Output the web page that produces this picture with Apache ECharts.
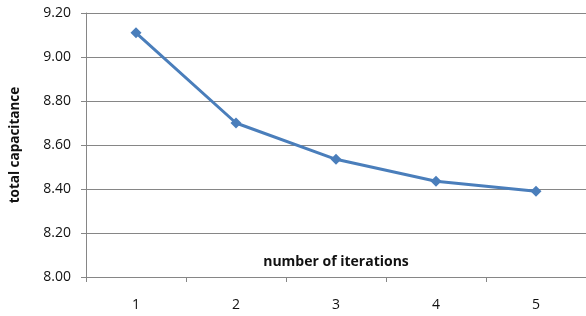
<!DOCTYPE html>
<html>
<head>
<meta charset="utf-8">
<script src="https://cdn.jsdelivr.net/npm/echarts@6/dist/echarts.min.js"></script>
<style>
html,body{margin:0;padding:0;background:#fff;}
#chart{width:586px;height:316px;}
</style>
</head>
<body>
<div id="chart"></div>
<script>
var iterations = ['1', '2', '3', '4', '5'];
var capacitance = [9.11, 8.70, 8.535, 8.435, 8.39];

var chart = echarts.init(document.getElementById('chart'));
chart.setOption({
    animation: false,
    textStyle: {fontFamily: 'Open Sans'},
    grid: {left: 82, right: -2, top: 13, bottom: 39},
    xAxis: {
        type: 'category',
        data: iterations,
        boundaryGap: true,
        name: 'number of iterations',
        nameLocation: 'middle',
        nameGap: -22,
        nameTextStyle: {fontWeight: 'bold', fontSize: 14, color: '#111'},
        axisLine: {lineStyle: {color: '#868686'}},
        axisTick: {show: true, alignWithLabel: false, length: 5, lineStyle: {color: '#868686'}},
        axisLabel: {color: '#111', fontSize: 14, margin: 21}
    },
    yAxis: {
        type: 'value',
        min: 8.0,
        max: 9.2,
        interval: 0.2,
        name: 'total capacitance',
        nameLocation: 'middle',
        nameGap: 64,
        nameTextStyle: {fontWeight: 'bold', fontSize: 13.5, color: '#111'},
        axisLine: {show: true, lineStyle: {color: '#868686'}},
        axisTick: {show: true, length: 5, lineStyle: {color: '#868686'}},
        splitLine: {lineStyle: {color: '#868686'}},
        axisLabel: {color: '#111', fontSize: 14, margin: 15, formatter: function (v) { return v.toFixed(2); }}
    },
    series: [{
        type: 'line',
        data: capacitance,
        symbol: 'diamond',
        symbolSize: 11,
        lineStyle: {color: '#4a7ebb', width: 3},
        itemStyle: {color: '#4a7ebb'}
    }]
});
</script>
</body>
</html>
